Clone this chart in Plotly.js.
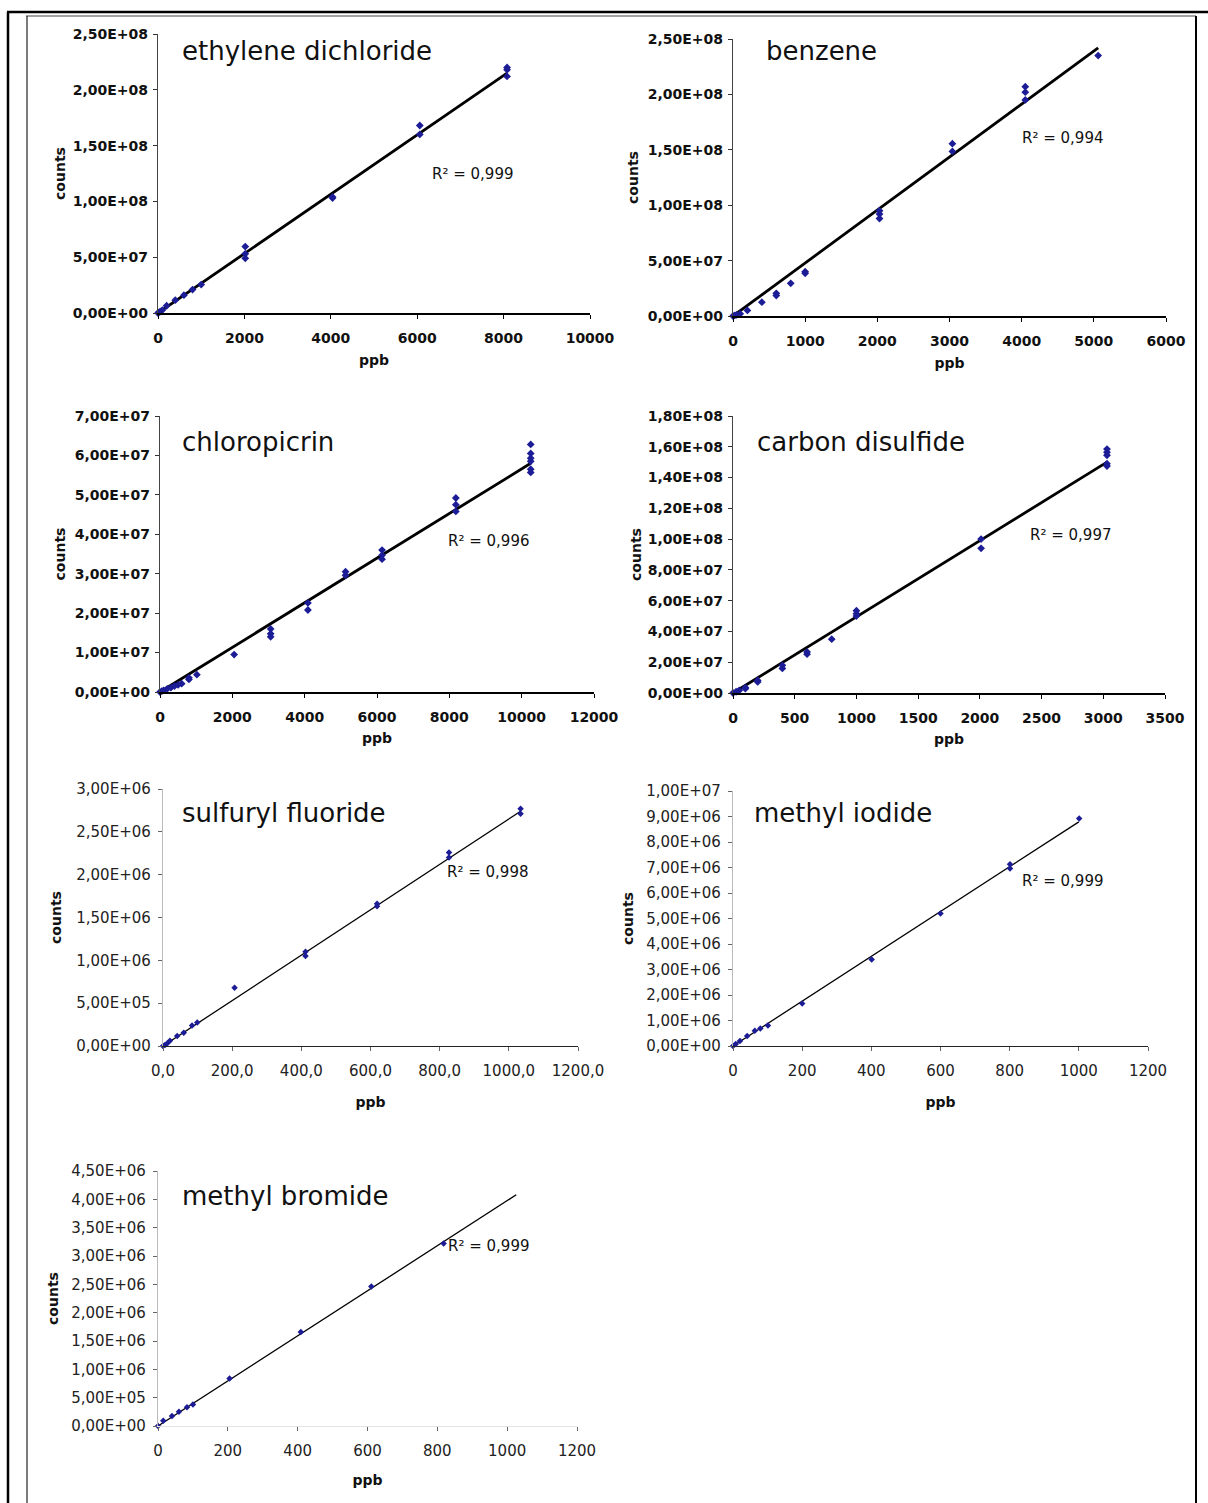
<!DOCTYPE html>
<html><head><meta charset="utf-8">
<script src="https://cdn.plot.ly/plotly-3.0.1.min.js"></script>
<style>html,body{margin:0;padding:0;background:#fff}#chart{width:1208px;height:1503px}</style>
</head><body><div id="chart"></div>
<script>
// ---------------- DATA ----------------
// 1. ethylene dichloride
const edX = [0, 20, 50, 100, 200, 400, 600, 800, 1000, 2020, 2020, 2020, 4040, 4040, 6060, 6060, 8080, 8080, 8080];
const edY = [0, 5e5, 1.3e6, 2.6e6, 6.5e6, 1.15e7, 1.6e7, 2.1e7, 2.55e7, 5.95e7, 5.3e7, 4.9e7, 1.03e8, 1.04e8, 1.68e8, 1.6e8, 2.2e8, 2.18e8, 2.12e8];
const edFitX = [0, 8080];
const edFitY = [0, 2.15e8];
const edR2 = "0,999";
const edXTicks = [0, 2000, 4000, 6000, 8000, 10000];
const edXLabels = ["0", "2000", "4000", "6000", "8000", "10000"];
const edYTicks = [0, 5e7, 1e8, 1.5e8, 2e8, 2.5e8];
const edYLabels = ["0,00E+00", "5,00E+07", "1,00E+08", "1,50E+08", "2,00E+08", "2,50E+08"];

// 2. benzene
const bzX = [0, 25, 50, 100, 200, 400, 600, 600, 800, 1000, 1000, 2030, 2030, 2030, 3040, 3040, 4050, 4050, 4050, 5060];
const bzY = [0, 5e5, 1e6, 2e6, 5e6, 1.25e7, 2.05e7, 1.85e7, 2.95e7, 4.0e7, 3.85e7, 9.5e7, 9.2e7, 8.8e7, 1.555e8, 1.485e8, 2.07e8, 2.02e8, 1.95e8, 2.35e8];
const bzFitX = [0, 5060];
const bzFitY = [0, 2.42e8];
const bzR2 = "0,994";
const bzXTicks = [0, 1000, 2000, 3000, 4000, 5000, 6000];
const bzXLabels = ["0", "1000", "2000", "3000", "4000", "5000", "6000"];
const bzYTicks = [0, 5e7, 1e8, 1.5e8, 2e8, 2.5e8];
const bzYLabels = ["0,00E+00", "5,00E+07", "1,00E+08", "1,50E+08", "2,00E+08", "2,50E+08"];

// 3. chloropicrin
const cpX = [0, 50, 100, 200, 300, 400, 500, 600, 800, 800, 1020, 2050, 3060, 3060, 3060, 4090, 4090, 5130, 5130, 6140, 6140, 6140, 8180, 8180, 8180, 10250, 10250, 10250, 10250, 10250, 10250];
const cpY = [0, 2e5, 4e5, 8e5, 1.1e6, 1.5e6, 1.8e6, 2.1e6, 3.2e6, 3.6e6, 4.4e6, 9.5e6, 1.6e7, 1.48e7, 1.4e7, 2.26e7, 2.08e7, 3.05e7, 2.96e7, 3.6e7, 3.47e7, 3.37e7, 4.92e7, 4.75e7, 4.58e7, 6.28e7, 6.05e7, 5.93e7, 5.85e7, 5.65e7, 5.57e7];
const cpFitX = [0, 10250];
const cpFitY = [0, 5.8e7];
const cpR2 = "0,996";
const cpXTicks = [0, 2000, 4000, 6000, 8000, 10000, 12000];
const cpXLabels = ["0", "2000", "4000", "6000", "8000", "10000", "12000"];
const cpYTicks = [0, 1e7, 2e7, 3e7, 4e7, 5e7, 6e7, 7e7];
const cpYLabels = ["0,00E+00", "1,00E+07", "2,00E+07", "3,00E+07", "4,00E+07", "5,00E+07", "6,00E+07", "7,00E+07"];

// 4. carbon disulfide
const csX = [0, 25, 50, 100, 100, 200, 200, 400, 400, 600, 600, 800, 1000, 1000, 1000, 2010, 2010, 3030, 3030, 3030, 3030, 3030];
const csY = [0, 8e5, 1.7e6, 2.8e6, 3.5e6, 8.2e6, 7.2e6, 1.8e7, 1.6e7, 2.67e7, 2.52e7, 3.5e7, 5.35e7, 5.15e7, 5.0e7, 1.0e8, 9.4e7, 1.585e8, 1.565e8, 1.545e8, 1.49e8, 1.475e8];
const csFitX = [0, 3030];
const csFitY = [0, 1.5e8];
const csR2 = "0,997";
const csXTicks = [0, 500, 1000, 1500, 2000, 2500, 3000, 3500];
const csXLabels = ["0", "500", "1000", "1500", "2000", "2500", "3000", "3500"];
const csYTicks = [0, 2e7, 4e7, 6e7, 8e7, 1e8, 1.2e8, 1.4e8, 1.6e8, 1.8e8];
const csYLabels = ["0,00E+00", "2,00E+07", "4,00E+07", "6,00E+07", "8,00E+07", "1,00E+08", "1,20E+08", "1,40E+08", "1,60E+08", "1,80E+08"];

// 5. sulfuryl fluoride
const sfX = [0, 6, 12, 20, 41, 60, 84, 99, 207, 412, 412, 619, 619, 827, 827, 1034, 1034];
const sfY = [0, 1.2e4, 3e4, 6e4, 1.17e5, 1.56e5, 2.38e5, 2.73e5, 6.8e5, 1.1e6, 1.05e6, 1.66e6, 1.63e6, 2.26e6, 2.2e6, 2.77e6, 2.71e6];
const sfFitX = [0, 1034];
const sfFitY = [0, 2.74e6];
const sfR2 = "0,998";
const sfXTicks = [0, 200, 400, 600, 800, 1000, 1200];
const sfXLabels = ["0,0", "200,0", "400,0", "600,0", "800,0", "1000,0", "1200,0"];
const sfYTicks = [0, 5e5, 1e6, 1.5e6, 2e6, 2.5e6, 3e6];
const sfYLabels = ["0,00E+00", "5,00E+05", "1,00E+06", "1,50E+06", "2,00E+06", "2,50E+06", "3,00E+06"];

// 6. methyl iodide
const miX = [0, 8, 20, 41, 63, 79, 101, 200, 401, 600, 801, 801, 1001];
const miY = [0, 8e4, 2e5, 3.9e5, 6.0e5, 6.9e5, 8.0e5, 1.67e6, 3.39e6, 5.2e6, 7.13e6, 6.96e6, 8.92e6];
const miFitX = [0, 1000];
const miFitY = [0, 8.79e6];
const miR2 = "0,999";
const miXTicks = [0, 200, 400, 600, 800, 1000, 1200];
const miXLabels = ["0", "200", "400", "600", "800", "1000", "1200"];
const miYTicks = [0, 1e6, 2e6, 3e6, 4e6, 5e6, 6e6, 7e6, 8e6, 9e6, 1e7];
const miYLabels = ["0,00E+00", "1,00E+06", "2,00E+06", "3,00E+06", "4,00E+06", "5,00E+06", "6,00E+06", "7,00E+06", "8,00E+06", "9,00E+06", "1,00E+07"];

// 7. methyl bromide
const mbX = [0, 15, 40, 60, 83, 100, 205, 409, 611, 818];
const mbY = [0, 9.4e4, 1.76e5, 2.5e5, 3.3e5, 3.8e5, 8.4e5, 1.66e6, 2.46e6, 3.22e6];
const mbFitX = [0, 1026];
const mbFitY = [0, 4.08e6];
const mbR2 = "0,999";
const mbXTicks = [0, 200, 400, 600, 800, 1000, 1200];
const mbXLabels = ["0", "200", "400", "600", "800", "1000", "1200"];
const mbYTicks = [0, 5e5, 1e6, 1.5e6, 2e6, 2.5e6, 3e6, 3.5e6, 4e6, 4.5e6];
const mbYLabels = ["0,00E+00", "5,00E+05", "1,00E+06", "1,50E+06", "2,00E+06", "2,50E+06", "3,00E+06", "3,50E+06", "4,00E+06", "4,50E+06"];

const compoundNames = ["ethylene dichloride", "benzene", "chloropicrin", "carbon disulfide", "sulfuryl fluoride", "methyl iodide", "methyl bromide"];
const xTitle = "ppb";
const yTitle = "counts";

// ---------------- LAYOUT / STYLE ----------------
const W = 1208, H = 1503;
const fx = p => p / W;
const fy = p => 1 - p / H;
const FONT = "DejaVu Sans, Verdana, sans-serif";

const panels = [
  {x: edX, y: edY, fitx: edFitX, fity: edFitY, r2: edR2, xt: edXTicks, xl: edXLabels, yt: edYTicks, yl: edYLabels,
   box: [158, 590, 34, 313], heavy: true, title: [180, 51], r2pos: [430, 174], xstand: 10, ystand: 3},
  {x: bzX, y: bzY, fitx: bzFitX, fity: bzFitY, r2: bzR2, xt: bzXTicks, xl: bzXLabels, yt: bzYTicks, yl: bzYLabels,
   box: [733, 1166, 39, 316], heavy: true, title: [764, 51], r2pos: [1020, 138], xstand: 10, ystand: 5},
  {x: cpX, y: cpY, fitx: cpFitX, fity: cpFitY, r2: cpR2, xt: cpXTicks, xl: cpXLabels, yt: cpYTicks, yl: cpYLabels,
   box: [160, 594, 416, 692], heavy: true, title: [180, 442], r2pos: [446, 541], xstand: 9, ystand: 5},
  {x: csX, y: csY, fitx: csFitX, fity: csFitY, r2: csR2, xt: csXTicks, xl: csXLabels, yt: csYTicks, yl: csYLabels,
   box: [733, 1165, 416, 693], heavy: true, title: [755, 442], r2pos: [1028, 535], xstand: 9, ystand: 2},
  {x: sfX, y: sfY, fitx: sfFitX, fity: sfFitY, r2: sfR2, xt: sfXTicks, xl: sfXLabels, yt: sfYTicks, yl: sfYLabels,
   box: [163, 578, 789, 1046], heavy: false, title: [180, 813], r2pos: [445, 872], xline: "#222", xstand: 18, ystand: 11},
  {x: miX, y: miY, fitx: miFitX, fity: miFitY, r2: miR2, xt: miXTicks, xl: miXLabels, yt: miYTicks, yl: miYLabels,
   box: [733, 1148, 791, 1046], heavy: false, title: [752, 813], r2pos: [1020, 881], xline: "#222", xstand: 18, ystand: 9},
  {x: mbX, y: mbY, fitx: mbFitX, fity: mbFitY, r2: mbR2, xt: mbXTicks, xl: mbXLabels, yt: mbYTicks, yl: mbYLabels,
   box: [158, 577, 1171, 1426], heavy: false, title: [180, 1196], r2pos: [446, 1246], xline: "#e4e4e4", xstand: 16, ystand: 9}
];

const traces = [];
const layout = {
  width: W, height: H,
  margin: {l: 0, r: 0, t: 0, b: 0},
  paper_bgcolor: "#ffffff", plot_bgcolor: "rgba(0,0,0,0)",
  showlegend: false,
  font: {family: FONT, color: "#111"},
  annotations: [],
  shapes: [
    // outer frame of the scanned page
    {type: "line", xref: "paper", yref: "paper", x0: fx(7), x1: fx(1208), y0: fy(12), y1: fy(12), line: {color: "#000", width: 2.5}},
    {type: "line", xref: "paper", yref: "paper", x0: fx(26), x1: fx(1196), y0: fy(16), y1: fy(16), line: {color: "#444", width: 1}},
    {type: "line", xref: "paper", yref: "paper", x0: fx(8), x1: fx(8), y0: fy(12), y1: fy(1503), line: {color: "#000", width: 2.5}},
    {type: "line", xref: "paper", yref: "paper", x0: fx(27), x1: fx(27), y0: fy(16), y1: fy(1503), line: {color: "#222", width: 1.2}},
    {type: "line", xref: "paper", yref: "paper", x0: fx(1196), x1: fx(1196), y0: fy(16), y1: fy(1503), line: {color: "#000", width: 2}}
  ]
};

panels.forEach((p, i) => {
  const n = i + 1;
  const xa = n === 1 ? "x" : "x" + n;
  const ya = n === 1 ? "y" : "y" + n;
  const xk = n === 1 ? "xaxis" : "xaxis" + n;
  const yk = n === 1 ? "yaxis" : "yaxis" + n;
  const tickFont = p.heavy
    ? {family: FONT, size: 14, color: "#111", weight: "bold"}
    : {family: FONT, size: 15, color: "#222", weight: "normal"};
  const titleFont = {family: FONT, size: 14, color: "#111", weight: "bold"};

  traces.push({
    type: "scatter", mode: "lines", x: p.fitx, y: p.fity, xaxis: xa, yaxis: ya,
    line: {color: "#000", width: p.heavy ? 2.8 : 1.3}, hoverinfo: "skip", cliponaxis: false
  });
  traces.push({
    type: "scatter", mode: "markers", x: p.x, y: p.y, xaxis: xa, yaxis: ya, name: compoundNames[i],
    marker: {symbol: "diamond", size: p.heavy ? 6 : 5, color: "#1c1c96"}, cliponaxis: false
  });

  const [x0, x1, yTop, yBot] = p.box;
  layout[xk] = {
    domain: [fx(x0), fx(x1)], anchor: ya,
    range: [p.xt[0], p.xt[p.xt.length - 1]],
    tickmode: "array", tickvals: p.xt, ticktext: p.xl,
    showgrid: false, zeroline: false,
    showline: true, linecolor: p.xline || "#000", linewidth: p.heavy ? 2 : 1.3,
    ticks: "outside", ticklen: 4, tickwidth: 1, tickcolor: p.heavy ? "#000" : "#666",
    ticklabelstandoff: 7, tickfont: tickFont,
    title: {text: xTitle, font: titleFont, standoff: p.xstand},
    automargin: false
  };
  layout[yk] = {
    domain: [fy(yBot), fy(yTop)], anchor: xa,
    range: [p.yt[0], p.yt[p.yt.length - 1]],
    tickmode: "array", tickvals: p.yt, ticktext: p.yl,
    showgrid: false, zeroline: false,
    showline: true, linecolor: p.heavy ? "#444" : "#bbb", linewidth: 1.2,
    ticks: "outside", ticklen: 4, tickwidth: 1, tickcolor: p.heavy ? "#333" : "#666",
    ticklabelstandoff: p.heavy ? 2 : 4, tickfont: tickFont,
    title: {text: yTitle, font: titleFont, standoff: p.ystand},
    automargin: false
  };

  // panel title (compound name)
  layout.annotations.push({
    xref: "paper", yref: "paper", x: fx(p.title[0]), y: fy(p.title[1]),
    xanchor: "left", yanchor: "middle", showarrow: false,
    text: compoundNames[i], font: {family: FONT, size: 26, color: "#111"}
  });
  // R squared
  layout.annotations.push({
    xref: "paper", yref: "paper", x: fx(p.r2pos[0]), y: fy(p.r2pos[1]),
    xanchor: "left", yanchor: "middle", showarrow: false,
    text: "R² = " + p.r2, font: {family: FONT, size: 15, color: "#111"}
  });
});

Plotly.newPlot("chart", traces, layout, {staticPlot: true, displayModeBar: false});
</script></body></html>
